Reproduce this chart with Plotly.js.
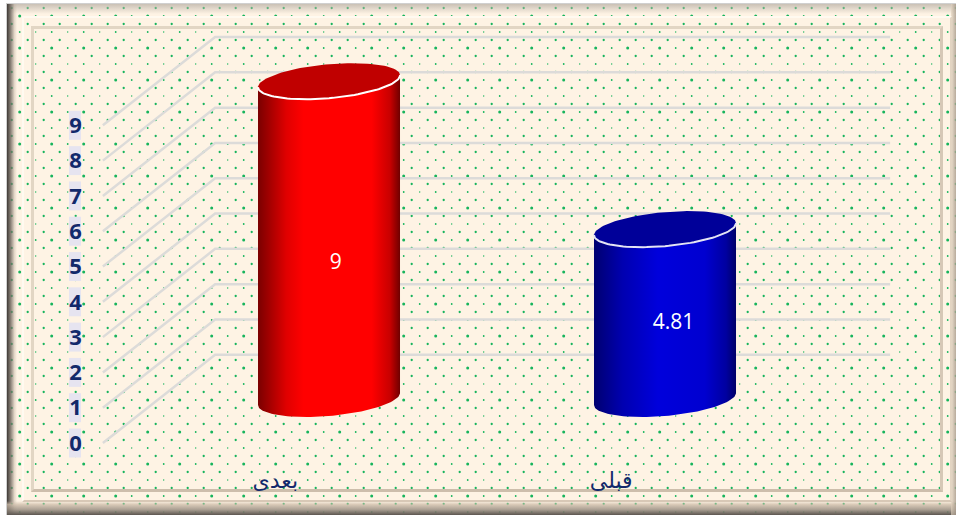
<!DOCTYPE html>
<html>
<head>
<meta charset="utf-8">
<script src="https://cdn.plot.ly/plotly-3.0.1.min.js"></script>
<style>
html,body{margin:0;padding:0;background:#fff;width:956px;height:515px;overflow:hidden}
#stage{position:absolute;left:7px;top:4px;width:949px;height:511px;background-color:#fef3e4;
background-image:url("data:image/svg+xml;utf8,<svg xmlns='http://www.w3.org/2000/svg' width='32' height='32'><g fill='%2316b45c'><circle cx='19.7' cy='16' r='1.5'/><circle cx='3.7' cy='16' r='.9'/><circle cx='11.7' cy='8' r='1.15'/><circle cx='27.7' cy='8' r='1.15'/><circle cx='11.7' cy='24' r='1.15'/><circle cx='27.7' cy='24' r='1.15'/><circle cx='3.7' cy='0' r='.7'/><circle cx='19.7' cy='0' r='.9'/><circle cx='3.7' cy='32' r='.7'/><circle cx='19.7' cy='32' r='.9'/></g></svg>");
background-position:-7px -4px;background-size:32px 32px;box-shadow:0 0 0 1px #d0d0d0}
.f{position:absolute;box-sizing:border-box}
#chart{position:absolute;left:0;top:0;width:956px;height:515px}
</style>
</head>
<body>
<div id="stage"></div>
<div class="f" style="left:8px;top:4px;width:948px;height:10px;background:linear-gradient(#b9b0a6c0,#efe3d000)"></div>
<div class="f" style="left:7px;top:4px;width:10px;height:511px;background:linear-gradient(90deg,#3f3a36,#6b635bd0 35%,#b9ab9b60 75%,#fdf3e300)"></div>
<div class="f" style="left:7px;top:501px;width:949px;height:14px;background:linear-gradient(#efe2d000,#cdbca9c0 25%,#9a8f82d0 60%,#5c5650)"></div>
<div class="f" style="left:951px;top:4px;width:5px;height:511px;background:linear-gradient(90deg,#e3d4c0a0,#a89b8cd0)"></div>
<div class="f" style="left:22px;top:16px;width:930px;height:486px;border:2px solid;border-color:#fffaf0 #e2d4c2 #d8c8b6 #fffaf0"></div>
<div class="f" style="left:31px;top:26px;width:912px;height:466px;border:3px solid;border-color:#e2d6c4 #d6c8b6 #cdbeac #e2d6c4"></div>
<div id="chart"></div>
<script>
var categories = ["بعدى", "قبلى"];
var values = [9, 4.81];
var valueLabels = ["9", "4.81"];
var labelHeights = [3.84, 2.14];
var yTickValues = [0, 1, 2, 3, 4, 5, 6, 7, 8, 9];
var yTickText = ["0", "1", "2", "3", "4", "5", "6", "7", "8", "9"];
var barFill = ["#ff0000", "#0000d8"];
var capFill = ["#c00000", "#000099"];
var rimColor = ["#ffffff", "#e4e4f4"];
var bodyScale = [
  [[0, "#7a0000"], [0.2, "#e00000"], [0.32, "#ff0000"], [0.8, "#ff0000"], [0.93, "#c80000"], [1, "#700000"]],
  [[0, "#000070"], [0.2, "#0000b0"], [0.45, "#0000dc"], [0.78, "#0000d0"], [0.93, "#0000a0"], [1, "#000068"]]
];

var pxX = 336, pxY = 35.3;           // pixels per axis unit
var xStart = 0.0208;
var halfW = 71 / pxX, tilt = 6 / pxY, depth = 17 / pxY;  // cylinder proportions in axis units
var tickShift = -0.16;
var gridFront = 0.327, gridBack = 0.661, gridEnd = 2.67, gridRise = 2.5;

function positions() { return values.map(function (_, i) { return i + 1; }); }
function arc(c, level, from, to, n) {
  var xs = [], ys = [];
  for (var k = 0; k <= n; k++) {
    var t = from + (to - from) * k / n;
    xs.push(c + halfW * Math.cos(t));
    ys.push(level + tilt * Math.cos(t) + depth * Math.sin(t));
  }
  return { x: xs, y: ys };
}

var traces = [];
// back-wall gridlines on the value axis
yTickValues.forEach(function (v) {
  traces.push({
    type: "scatter", mode: "lines", yaxis: "y", hoverinfo: "skip", showlegend: false,
    x: [gridFront, gridBack, gridEnd], y: [v, v + gridRise, v + gridRise],
    line: { color: "#dcdbd9", width: 2.5 }
  });
});
// the bars themselves
traces.push({
  type: "bar", x: positions(), y: values, yaxis: "y2", width: 2 * halfW * 0.85,
  marker: { color: barFill, line: { width: 0 } }, showlegend: false, hoverinfo: "y"
});
// cylinder skins
values.forEach(function (v, i) {
  var c = i + 1;
  var low = arc(c, 0, Math.PI, 2 * Math.PI, 60);   // front of the base
  var high = arc(c, v, 2 * Math.PI, Math.PI, 60);  // front of the cap
  traces.push({
    type: "scatter", mode: "lines", yaxis: "y2", fill: "toself", hoverinfo: "skip", showlegend: false,
    x: low.x.concat(high.x), y: low.y.concat(high.y), line: { width: 0, color: barFill[i] },
    fillcolor: barFill[i],
    fillgradient: { type: "horizontal", colorscale: bodyScale[i] }
  });
  var cap = arc(c, v, 0, 2 * Math.PI, 120);
  traces.push({
    type: "scatter", mode: "lines", yaxis: "y2", fill: "toself", hoverinfo: "skip", showlegend: false,
    x: cap.x, y: cap.y, fillcolor: capFill[i], line: { width: 0, color: capFill[i] }
  });
  var rim = arc(c, v, Math.PI, 2 * Math.PI, 60);
  traces.push({
    type: "scatter", mode: "lines", yaxis: "y2", hoverinfo: "skip", showlegend: false,
    x: rim.x, y: rim.y, line: { color: rimColor[i], width: 2 }
  });
});
// value labels
traces.push({
  type: "scatter", mode: "text", yaxis: "y2", hoverinfo: "skip", showlegend: false,
  x: positions().map(function (p, i) { return p + (i === 0 ? 0.02 : 0.025); }),
  y: labelHeights,
  text: valueLabels, textposition: "middle center",
  textfont: { family: "Open Sans, sans-serif", size: 21, color: "#ffffff" }
});

var shapes = yTickValues.map(function (v) {
  return {
    type: "rect", layer: "below", xref: "x", yref: "y",
    x0: xStart + 69 / pxX, x1: xStart + 81 / pxX, y0: v - 0.41, y1: v + 0.41,
    fillcolor: "#e6e4f0", line: { width: 0 }
  };
});

var layout = {
  width: 956, height: 515,
  margin: { l: 0, r: 0, t: 0, b: 50, pad: 0 },
  paper_bgcolor: "rgba(0,0,0,0)", plot_bgcolor: "rgba(0,0,0,0)",
  showlegend: false, barmode: "overlay",
  xaxis: {
    range: [xStart, xStart + 956 / pxX], showgrid: false, zeroline: false, showline: false, ticks: "",
    tickmode: "array", tickvals: positions().map(function (p) { return p + tickShift; }),
    ticktext: categories, tickangle: 0,
    tickfont: { family: "DejaVu Sans, sans-serif", size: 22, color: "#12296b" }
  },
  yaxis: {
    anchor: "free", position: 0.0855, side: "left",
    range: [-0.623, 12.55], showgrid: false, zeroline: false, showline: false, ticks: "",
    tickmode: "array", tickvals: yTickValues, ticktext: yTickText,
    tickfont: { family: "Open Sans, sans-serif", size: 22, color: "#12296b", weight: 700 }
  },
  yaxis2: {
    overlaying: "y", range: [-1.87, 11.3], visible: false, fixedrange: true
  },
  shapes: shapes
};
Plotly.newPlot("chart", traces, layout, { displayModeBar: false, staticPlot: true });
</script>
</body>
</html>
